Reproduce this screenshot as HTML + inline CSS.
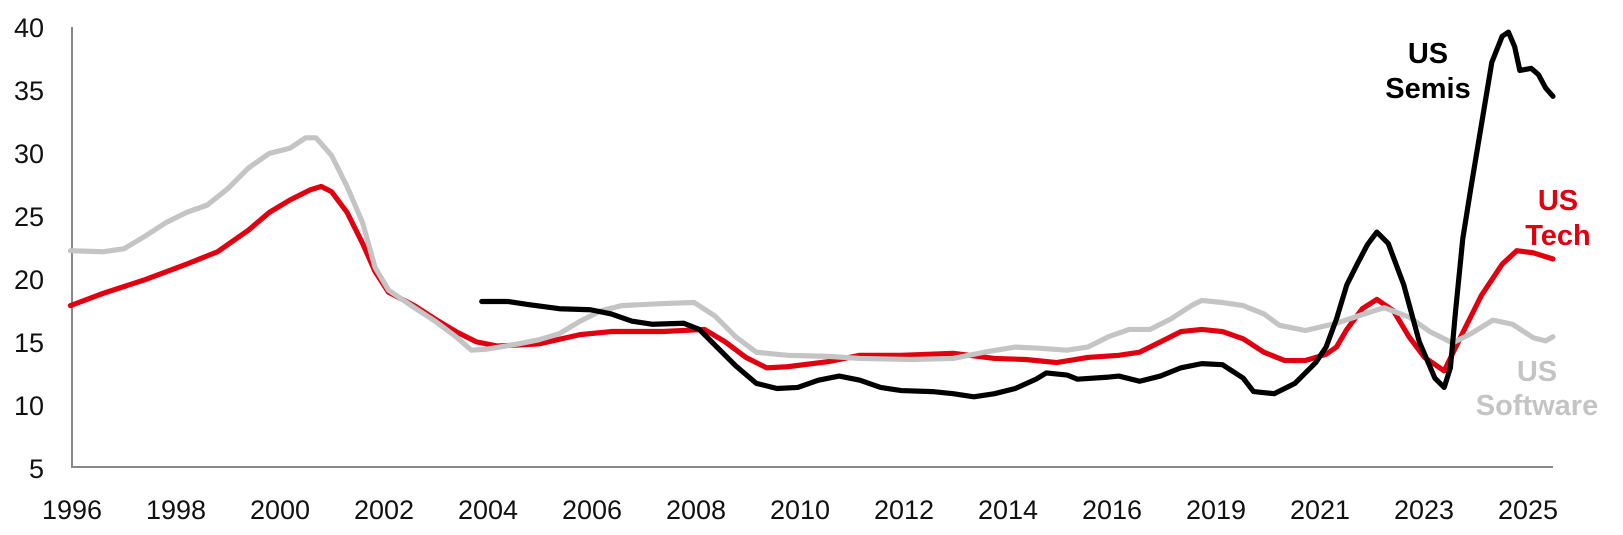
<!DOCTYPE html>
<html><head><meta charset="utf-8"><style>
html,body{margin:0;padding:0;background:#fff;}
svg{display:block;font-family:"Liberation Sans",Arial,sans-serif;}
</style></head><body>
<svg width="1623" height="535" viewBox="0 0 1623 535" xmlns="http://www.w3.org/2000/svg">
<g font-size="27" fill="#111" text-anchor="end">
<text x="44" y="415">10</text><text x="44" y="478">5</text>
<text x="44" y="352">15</text><text x="44" y="289">20</text><text x="44" y="226">25</text>
<text x="44" y="163">30</text><text x="44" y="100">35</text><text x="44" y="37">40</text>
</g>
<g font-size="27" fill="#111" text-anchor="middle">
<text x="72" y="519">1996</text><text x="176" y="519">1998</text><text x="280" y="519">2000</text>
<text x="384" y="519">2002</text><text x="488" y="519">2004</text><text x="592" y="519">2006</text>
<text x="696" y="519">2008</text><text x="800" y="519">2010</text><text x="904" y="519">2012</text>
<text x="1008" y="519">2014</text><text x="1112" y="519">2016</text><text x="1216" y="519">2019</text>
<text x="1320" y="519">2021</text><text x="1424" y="519">2023</text><text x="1528" y="519">2025</text>
</g>
<path d="M72 27 V467 H1553" fill="none" stroke="#888" stroke-width="2"/>
<g transform="scale(1.036)" fill="none" stroke-width="5" stroke-linejoin="round" stroke-linecap="round">
<polyline stroke="#e0000f" points="68,295 100,283 140,270 180,255 210,243 240,222 260,205 280,193 300,183 310,180 320,185 335,205 350,235 362,262 375,282 400,295 420,308 440,320 460,330 480,334 520,332 560,323 590,320 640,320 680,318 700,330 720,345 740,355 760,354 800,349 830,343 870,343 920,341 960,346 990,347 1020,350 1050,345 1080,343 1100,340 1120,330 1140,320 1160,318 1180,320 1200,327 1220,340 1240,348 1260,348 1280,342 1290,335 1300,318 1315,298 1329,289 1345,300 1360,325 1375,345 1394,358 1410,325 1430,285 1450,255 1464,242 1480,244 1499,250"/>
<polyline stroke="#c4c4c4" points="68,242 100,243 120,240 140,228 160,215 180,205 200,198 220,182 240,162 260,148 280,143 295,133 305,133 320,150 335,180 350,215 362,258 375,280 400,297 420,310 440,325 455,338 470,337 500,332 520,328 540,322 560,310 580,300 600,295 640,293 670,292 690,305 710,325 730,340 760,343 800,344 830,346 880,347 920,346 950,340 980,335 1000,336 1030,338 1050,335 1070,325 1090,318 1110,318 1130,308 1150,295 1160,290 1180,292 1200,295 1220,303 1235,314 1260,319 1290,312 1320,302 1336,297 1360,306 1380,320 1402,331 1420,322 1441,309 1460,313 1480,326 1492,329 1499,325"/>
<polyline stroke="#000" points="465,291 490,291 510,294 540,298 570,299 590,303 610,310 630,313 660,312 675,318 690,333 710,353 730,370 750,375 770,374 790,367 810,363 830,367 850,374 870,377 900,378 920,380 940,383 960,380 980,375 1000,366 1010,360 1030,362 1040,366 1070,364 1080,363 1100,368 1120,363 1140,355 1160,351 1180,352 1200,365 1210,378 1230,380 1250,370 1270,350 1280,335 1290,308 1300,275 1310,255 1320,236 1329,224 1340,235 1355,275 1370,330 1385,365 1394,374 1400,355 1405,300 1412,230 1420,180 1430,120 1440,60 1450,35 1456,31 1462,45 1467,68 1478,66 1485,72 1492,85 1499,93"/>
</g>
<g font-size="29" font-weight="bold" text-anchor="middle">
<text x="1428" y="63" fill="#000">US</text><text x="1428" y="98" fill="#000">Semis</text>
<text x="1558" y="210" fill="#e0000f">US</text><text x="1558" y="245" fill="#e0000f">Tech</text>
<text x="1537" y="381" fill="#c4c4c4">US</text><text x="1537" y="415" fill="#c4c4c4">Software</text>
</g>
</svg>
</body></html>
